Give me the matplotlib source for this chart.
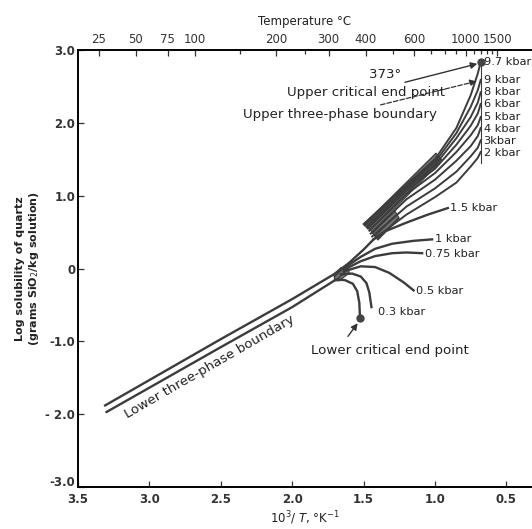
import matplotlib
matplotlib.use("Agg")
import matplotlib.pyplot as plt
from matplotlib.patches import Polygon
from matplotlib.transforms import ScaledTranslation

plt.rcParams['font.family'] = ['DejaVu Sans']

# ---------------- data ----------------
# lower three-phase boundary (two nearly parallel lines)
ltb_upper_x = [3.31, 2.50, 2.00, 1.70, 1.60, 1.50, 1.43]
ltb_upper_y = [-1.88, -0.97, -0.42, -0.07, 0.08, 0.26, 0.40]
ltb_lower_x = [3.30, 2.50, 2.00, 1.70]
ltb_lower_y = [-1.97, -1.08, -0.53, -0.16]

# curve to the lower critical end point
lcep_x = [1.70, 1.63, 1.575, 1.545, 1.53, 1.525]
lcep_y = [-0.15, -0.16, -0.21, -0.31, -0.47, -0.68]

# low-pressure isobars
p03_x = [1.66, 1.58, 1.52, 1.48, 1.46, 1.445]
p03_y = [-0.08, -0.07, -0.11, -0.20, -0.33, -0.53]
p05_x = [1.64, 1.52, 1.42, 1.32, 1.22, 1.15]
p05_y = [-0.04, 0.03, 0.02, -0.06, -0.19, -0.30]
p075_x = [1.64, 1.52, 1.42, 1.30, 1.20, 1.09]
p075_y = [-0.02, 0.10, 0.17, 0.21, 0.22, 0.21]
p1_x = [1.64, 1.52, 1.42, 1.30, 1.15, 1.02]
p1_y = [0.00, 0.16, 0.27, 0.34, 0.38, 0.40]
p15_x = [1.43, 1.35, 1.20, 1.05, 0.91]
p15_y = [0.40, 0.51, 0.63, 0.74, 0.83]

# high-pressure isobars (x = 10^3/T)
hp_x = {
    '2':   [1.43, 1.20, 1.00, 0.85, 0.75, 0.70, 0.68],
    '3':   [1.44, 1.20, 1.00, 0.85, 0.75, 0.70, 0.68],
    '4':   [1.45, 1.20, 1.00, 0.85, 0.75, 0.70, 0.68],
    '5':   [1.46, 1.20, 1.00, 0.85, 0.75, 0.70, 0.68],
    '6':   [1.47, 1.20, 1.00, 0.85, 0.75, 0.70, 0.68],
    '8':   [1.48, 1.20, 1.00, 0.85, 0.75, 0.70, 0.68],
    '9':   [1.49, 1.20, 1.00, 0.85, 0.75, 0.70, 0.68],
    '9.7': [1.50, 1.20, 1.00, 0.85, 0.75, 0.70, 0.68],
}
hp_y = {
    '2':   [0.40, 0.74, 0.98, 1.18, 1.40, 1.52, 1.60],
    '3':   [0.44, 0.85, 1.10, 1.33, 1.54, 1.66, 1.76],
    '4':   [0.48, 0.95, 1.22, 1.48, 1.68, 1.82, 1.93],
    '5':   [0.52, 1.02, 1.31, 1.60, 1.83, 1.97, 2.08],
    '6':   [0.55, 1.07, 1.37, 1.70, 1.96, 2.13, 2.26],
    '8':   [0.57, 1.10, 1.42, 1.79, 2.08, 2.28, 2.42],
    '9':   [0.59, 1.13, 1.46, 1.86, 2.22, 2.45, 2.59],
    '9.7': [0.61, 1.15, 1.50, 1.93, 2.38, 2.68, 2.835],
}
hp_label_y = {'9.7': 2.835, '9': 2.59, '8': 2.43, '6': 2.26,
              '5': 2.08, '4': 1.91, '3': 1.75, '2': 1.59}
hp_label_txt = {'9.7': '9.7 kbar', '9': '9 kbar', '8': '8 kbar', '6': '6 kbar',
                '5': '5 kbar', '4': '4 kbar', '3': '3kbar', '2': '2 kbar'}

# shaded bands (upper three-phase boundary region) and the knot
band1_x = [1.441, 0.951, 0.993, 1.497]
band1_y = [0.500, 1.489, 1.585, 0.610]
band2_x = [1.40, 1.25, 1.28, 1.44]
band2_y = [0.39, 0.69, 0.79, 0.49]
knot_x = [1.70, 1.67, 1.60, 1.61, 1.66, 1.71]
knot_y = [-0.17, -0.17, -0.06, 0.02, 0.01, -0.08]

# axis ticks
xticks = [3.5, 3.0, 2.5, 2.0, 1.5, 1.0, 0.5]
xticklabels = ['3.5', '3.0', '2.5', '2.0', '1.5', '1.0', '0.5']
yticks = [3.0, 2.0, 1.0, 0.0, -1.0, -2.0, -3.0]
yticklabels = ['3.0', '2.0', '1.0', '0', '-1.0', '- 2.0', '-3.0']
temp_major = [25, 50, 75, 100, 200, 300, 400, 600, 1000, 1500]
temp_minor = [150, 250, 500, 700, 800, 900, 1100, 1200, 1300, 1400]

# ---------------- figure ----------------
W, H = 532, 529
fig = plt.figure(figsize=(W / 100, H / 100), dpi=100)
left_px, right_px, top_px, bot_px = 78, 532, 50, 487
ax = fig.add_axes([left_px / W, 1 - bot_px / H, (right_px - left_px) / W, (bot_px - top_px) / H])

x_right = 3.5 - (right_px - left_px) / 142.8
ax.set_xlim(3.5, x_right)
ax.set_ylim(-3.0, 3.0)

lc = '#3c3c3c'
lw = 1.7

ax.plot(ltb_upper_x, ltb_upper_y, color=lc, lw=lw)
ax.plot(ltb_lower_x, ltb_lower_y, color=lc, lw=lw)
ax.plot(lcep_x, lcep_y, color=lc, lw=lw)
for xs, ys in [(p03_x, p03_y), (p05_x, p05_y), (p075_x, p075_y), (p1_x, p1_y), (p15_x, p15_y)]:
    ax.plot(xs, ys, color=lc, lw=lw)

for bx, by in [(band1_x, band1_y), (band2_x, band2_y), (knot_x, knot_y)]:
    ax.add_patch(Polygon(list(zip(bx, by)), closed=True, facecolor='#5a5a5a',
                         edgecolor='#333333', lw=0.8, alpha=0.85, hatch='//////'))

for k in hp_x:
    ax.plot(hp_x[k], hp_y[k], color=lc, lw=1.4)

# vertical terminal line
ax.plot([0.675, 0.675], [1.45, 2.85], color=lc, lw=0.8)

# critical end points
ax.plot([1.525], [-0.68], 'o', color='#444444', ms=5)
ax.plot([0.68], [2.835], 'o', color='#444444', ms=5)

# kbar labels
fs_k = 8.2
for k in hp_label_y:
    ax.text(0.66, hp_label_y[k], hp_label_txt[k], fontsize=fs_k, va='center', ha='left', color='#222222')
ax.text(0.895, 0.83, '1.5 kbar', fontsize=fs_k, va='center', ha='left', color='#222222')
ax.text(1.00, 0.40, '1 kbar', fontsize=fs_k, va='center', ha='left', color='#222222')
ax.text(1.07, 0.20, '0.75 kbar', fontsize=fs_k, va='center', ha='left', color='#222222')
ax.text(1.13, -0.31, '0.5 kbar', fontsize=fs_k, va='center', ha='left', color='#222222')
ax.text(1.40, -0.60, '0.3 kbar', fontsize=fs_k, va='center', ha='left', color='#222222')

# annotations
fs_a = 9.6
ax.text(1.35, 2.66, '373°', fontsize=fs_a, ha='center', va='center', color='#222222')
ax.annotate('Upper critical end point', xy=(0.685, 2.82), xytext=(0.93, 2.42),
            fontsize=fs_a, ha='right', va='center', color='#222222',
            arrowprops=dict(arrowstyle='-|>', color='#333333', lw=1.0, shrinkA=2, shrinkB=2))
ax.annotate('Upper three-phase boundary', xy=(0.69, 2.58), xytext=(0.985, 2.11),
            fontsize=fs_a, ha='right', va='center', color='#222222',
            arrowprops=dict(arrowstyle='-|>', color='#333333', lw=0.9, ls='--', shrinkA=2, shrinkB=2))
ax.annotate('Lower critical end point', xy=(1.53, -0.72), xytext=(1.315, -1.12),
            fontsize=fs_a, ha='center', va='center', color='#222222',
            arrowprops=dict(arrowstyle='-|>', color='#333333', lw=1.0, shrinkA=4, shrinkB=2,
                            relpos=(0.2, 1.0)))
ax.text(2.576, -1.35, 'Lower three-phase boundary', fontsize=fs_a, rotation=30,
        ha='center', va='center', rotation_mode='anchor', color='#222222')

# axes styling
for s in ['left', 'bottom', 'top']:
    ax.spines[s].set_linewidth(1.3)
    ax.spines[s].set_color('#333333')
ax.spines['right'].set_visible(False)

ax.set_xticks(xticks)
ax.set_xticklabels(xticklabels, fontsize=8.5, fontweight='bold', color='#333333')
ax.set_yticks(yticks)
ax.set_yticklabels(yticklabels, fontsize=8.5, fontweight='bold', color='#222222')
ax.tick_params(direction='in', length=4, width=0.9, colors='#333333', pad=2)
ax.tick_params(axis='x', pad=4)
# lift the "-3.0" label a little so it clears the "3.5" label (as in the original)
lab = ax.get_yticklabels()[-1]
lab.set_transform(lab.get_transform() + ScaledTranslation(0, 4 / 72, fig.dpi_scale_trans))

ax.set_xlabel('10$^3$/ $T$, °K$^{-1}$', fontsize=8.5, labelpad=3, color='#222222')
ax.set_ylabel('Log solubility of quartz\n(grams SiO$_2$/kg solution)', fontsize=8,
              fontweight='bold', labelpad=3, color='#222222')

# top temperature axis
ax2 = ax.twiny()
ax2.set_xlim(ax.get_xlim())
ax2.set_xticks([1000.0 / (t + 273.15) for t in temp_major])
ax2.set_xticklabels([str(t) for t in temp_major], fontsize=8.5, color='#222222')
ax2.set_xticks([1000.0 / (t + 273.15) for t in temp_minor], minor=True)
ax2.tick_params(axis='x', which='both', direction='in', length=4, width=0.9, pad=3, colors='#333333')
ax2.tick_params(axis='x', which='minor', length=3)
ax2.set_xlabel('Temperature °C', fontsize=8.5, labelpad=6, color='#222222')
ax2.spines['right'].set_visible(False)
for s in ax2.spines.values():
    s.set_linewidth(1.3)

fig.savefig('out.png', dpi=100)
